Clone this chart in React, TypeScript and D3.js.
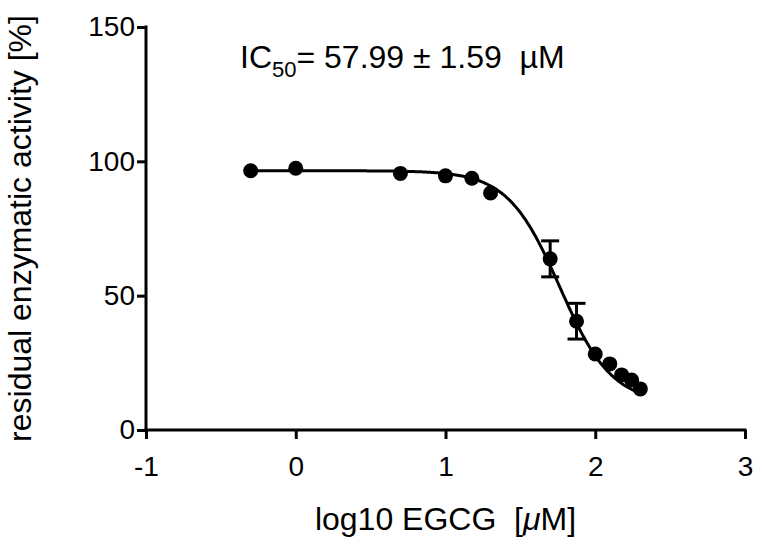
import React, { useEffect, useRef } from 'react';
import * as d3 from 'd3';

// measured points (log10 of EGCG concentration in µM)
const logConc = [-0.301, 0, 0.699, 1, 1.176, 1.301, 1.699, 1.875, 2, 2.097, 2.176, 2.243, 2.301];
const activity = [96.5, 97.4, 95.5, 94.6, 93.7, 88.2, 63.7, 40.5, 28.3, 24.6, 20.5, 18.6, 15.3];
const errors = [0, 0, 0, 0, 0, 0, 6.7, 6.65, 0, 0, 0, 0, 0];

const xTicks = [-1, 0, 1, 2, 3];
const yTicks = [0, 50, 100, 150];

// fitted dose-response parameters
const fitTop = 96.5;
const fitBottom = 10;
const fitLogIC50 = 1.763;
const fitHill = 2.5;

const W = 762;
const H = 545;

const App = () => {
  const svgRef = useRef<SVGSVGElement>(null);

  useEffect(() => {
    const svg = d3.select(svgRef.current);
    svg.selectAll('*').remove();

    const margin = { top: 27, right: 17, bottom: 115, left: 146 };
    const font = 'Liberation Sans, Arial, Helvetica, sans-serif';

    const x = d3.scaleLinear().domain([-1, 3]).range([margin.left, W - margin.right]);
    const y = d3.scaleLinear().domain([0, 150]).range([H - margin.bottom, margin.top]);

    // axes
    const xAxis = svg.append('g')
      .attr('transform', `translate(0,${y(0)})`)
      .call(d3.axisBottom(x).tickValues(xTicks).tickSizeOuter(0).tickSize(9).tickPadding(17).tickFormat(d => String(d)));
    const yAxis = svg.append('g')
      .attr('transform', `translate(${x(-1)},0)`)
      .call(d3.axisLeft(y).tickValues(yTicks).tickSizeOuter(0).tickSize(9).tickPadding(2));

    [xAxis, yAxis].forEach(a => {
      a.selectAll('path, line').attr('stroke', '#000').attr('stroke-width', 3);
      a.selectAll('text')
        .attr('fill', '#000')
        .style('font-family', font)
        .style('font-size', '28px');
    });
    xAxis.select('.domain').attr('d', `M${x(-1) - 1.5},0H${x(3) + 1.5}`);
    yAxis.select('.domain').attr('d', `M0,${y(0) + 1.5}V${y(150) - 1.5}`);
    xAxis.selectAll('.tick text').attr('dy', '0.71em');

    // fitted curve
    const hill = (v: number) => fitBottom + (fitTop - fitBottom) / (1 + Math.pow(10, (v - fitLogIC50) * fitHill));
    const curveX = d3.range(logConc[0], logConc[logConc.length - 1] + 0.0001, 0.01);
    svg.append('path')
      .attr('d', d3.line<number>().x(v => x(v)).y(v => y(hill(v)))(curveX))
      .attr('fill', 'none')
      .attr('stroke', '#000')
      .attr('stroke-width', 3);

    // error bars
    const pts = logConc.map((v, i) => ({ lx: v, val: activity[i], err: errors[i] }));
    const eb = svg.append('g').attr('stroke', '#000').attr('stroke-width', 3);
    pts.filter(d => d.err > 0).forEach(d => {
      eb.append('line').attr('x1', x(d.lx)).attr('x2', x(d.lx)).attr('y1', y(d.val - d.err)).attr('y2', y(d.val + d.err));
      [d.val - d.err, d.val + d.err].forEach(e => {
        eb.append('line').attr('x1', x(d.lx) - 9).attr('x2', x(d.lx) + 9).attr('y1', y(e)).attr('y2', y(e));
      });
    });

    // points
    svg.append('g').selectAll('circle')
      .data(pts)
      .enter()
      .append('circle')
      .attr('cx', d => x(d.lx))
      .attr('cy', d => y(d.val))
      .attr('r', 7.5)
      .attr('fill', '#000');

    // IC50 annotation
    const ann = svg.append('text')
      .attr('x', 240)
      .attr('y', 68)
      .style('font-family', font)
      .style('font-size', '32px')
      .style('white-space', 'pre')
      .attr('fill', '#000');
    ann.append('tspan').text('IC');
    ann.append('tspan').attr('dy', 9).style('font-size', '22px').text('50');
    ann.append('tspan').attr('dy', -9).text('= 57.99 \u00b1 1.59  \u00b5M');

    // x axis title
    const xt = svg.append('text')
      .attr('x', (x(-1) + x(3)) / 2)
      .attr('y', 530)
      .attr('text-anchor', 'middle')
      .style('font-family', font)
      .style('font-size', '32px')
      .style('white-space', 'pre')
      .attr('fill', '#000');
    xt.append('tspan').text('log10 EGCG  [');
    xt.append('tspan').style('font-style', 'italic').text('\u03bc');
    xt.append('tspan').text('M]');

    // y axis title
    svg.append('text')
      .attr('transform', 'rotate(-90)')
      .attr('x', -(y(0) + y(150)) / 2)
      .attr('y', 31)
      .attr('text-anchor', 'middle')
      .style('font-family', font)
      .style('font-size', '32px')
      .attr('fill', '#000')
      .text('residual enzymatic activity [%]');
  }, []);

  return (
    <svg
      ref={svgRef}
      width={W}
      height={H}
      style={{ position: 'absolute', left: 0, top: 0, background: '#fff' }}
    />
  );
};

export default App;
